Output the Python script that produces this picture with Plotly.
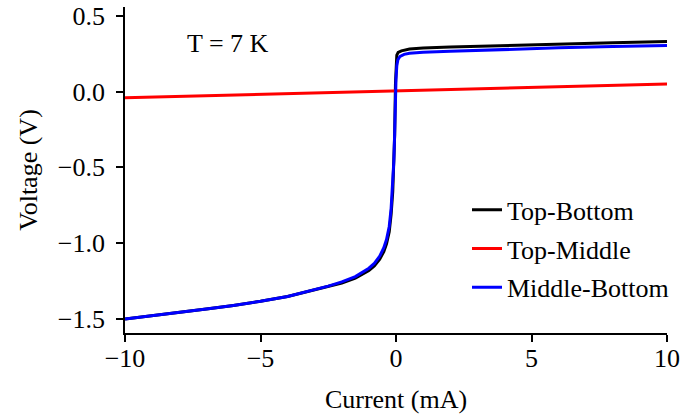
import plotly.graph_objects as go

# Top-Bottom (black)
tb_current = [-10, -9, -8, -7, -6, -5, -4, -3, -2.5, -2, -1.5, -1.0, -0.8, -0.6, -0.45,
              -0.35, -0.25, -0.18, -0.12, -0.08, -0.05, -0.02, 0.0, 0.03, 0.08, 0.2,
              0.5, 1, 2, 4, 6, 8, 10]
tb_voltage = [-1.500, -1.479, -1.457, -1.434, -1.410, -1.383, -1.351, -1.309, -1.285,
              -1.262, -1.230, -1.180, -1.150, -1.105, -1.055, -1.005, -0.925, -0.810,
              -0.660, -0.490, -0.290, 0.050, 0.180, 0.240, 0.258, 0.268, 0.280, 0.287,
              0.294, 0.304, 0.313, 0.321, 0.329]

# Top-Middle (red)
tm_current = [-10, -5, 0, 5, 10]
tm_voltage = [-0.041, -0.019, 0.003, 0.026, 0.049]

# Middle-Bottom (blue)
mb_current = [-10, -9, -8, -7, -6, -5, -4, -3, -2.5, -2, -1.5, -1.0, -0.8, -0.6, -0.45,
              -0.35, -0.25, -0.18, -0.12, -0.08, -0.05, -0.03, 0.0, 0.03, 0.07, 0.15,
              0.3, 0.5, 1, 2, 4, 6, 8, 10]
mb_voltage = [-1.500, -1.479, -1.457, -1.434, -1.410, -1.383, -1.351, -1.309, -1.283,
              -1.255, -1.220, -1.165, -1.133, -1.085, -1.030, -0.976, -0.890, -0.770,
              -0.620, -0.460, -0.280, -0.100, 0.080, 0.170, 0.210, 0.232, 0.245, 0.252,
              0.258, 0.265, 0.278, 0.288, 0.296, 0.303]

x_ticks = [-10, -5, 0, 5, 10]
y_ticks = [-1.5, -1.0, -0.5, 0.0, 0.5]

FONT = "Liberation Serif"
FS = 26

fig = go.Figure()
fig.add_trace(go.Scatter(x=tb_current, y=tb_voltage, mode="lines", name="Top-Bottom",
                         line=dict(color="black", width=3), legendgroup="a"))
fig.add_trace(go.Scatter(x=tm_current, y=tm_voltage, mode="lines", name="Top-Middle",
                         line=dict(color="red", width=3), legendgroup="b"))
fig.add_trace(go.Scatter(x=mb_current, y=mb_voltage, mode="lines", name="Middle-Bottom",
                         line=dict(color="blue", width=3), legendgroup="c"))

axis_common = dict(showline=True, linecolor="black", linewidth=1.6, ticks="outside",
                   ticklen=7, tickwidth=1.6, tickcolor="black", showgrid=False,
                   zeroline=False, tickfont=dict(family=FONT, size=FS, color="black"),
                   mirror=False)

fig.update_layout(
    width=684, height=416,
    margin=dict(l=125, r=17, t=7, b=83, autoexpand=False),
    plot_bgcolor="white", paper_bgcolor="white",
    font=dict(family=FONT, size=FS, color="black"),
    xaxis=dict(range=[-10, 10], tickvals=x_ticks,
               ticktext=[("−" if v < 0 else "") + str(abs(v)) for v in x_ticks],
               ticklabelstandoff=-6,
               title=dict(text="Current (mA)", font=dict(family=FONT, size=FS), standoff=18),
               **axis_common),
    yaxis=dict(range=[-1.592, 0.557], tickvals=y_ticks,
               ticktext=[("−" if v < 0 else "") + f"{abs(v):.1f}" for v in y_ticks],
               ticklabelstandoff=6,
               title=dict(text="Voltage (V)", font=dict(family=FONT, size=FS), standoff=13),
               **axis_common),
    legend=dict(x=0.631, y=0.45, xanchor="left", yanchor="top", bgcolor="rgba(0,0,0,0)",
                font=dict(family=FONT, size=FS), traceorder="grouped", tracegroupgap=2),
    showlegend=True,
    annotations=[dict(text="T = 7 K", x=0.111, y=0.887, xref="paper", yref="paper",
                      xanchor="left", yanchor="middle", showarrow=False,
                      font=dict(family=FONT, size=FS))],
)

fig.write_html("out.html", config={"displayModeBar": False},
               post_script="document.body.style.margin='0';")
